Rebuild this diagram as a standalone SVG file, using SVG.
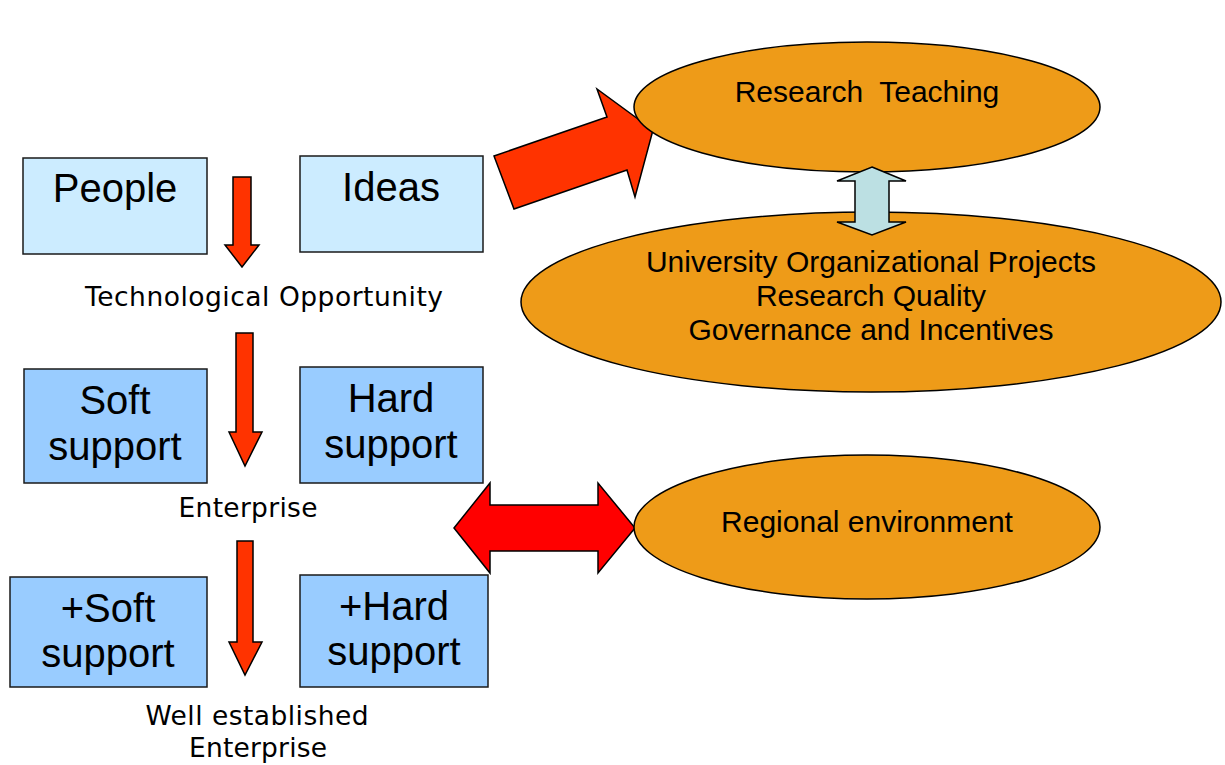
<svg xmlns="http://www.w3.org/2000/svg" width="1225" height="765" viewBox="0 0 1225 765">
  <style>
    .box { stroke: #1a1a1a; stroke-width: 1.5; }
    .light { fill: #CCECFF; }
    .mid { fill: #99CCFF; }
    .oval { fill: #EE9B18; stroke: #000; stroke-width: 1.5; }
    .down { fill: #FF3300; stroke: #000; stroke-width: 1.5; stroke-linejoin: miter; }
    .big { font-family: "Liberation Sans", Arial, sans-serif; font-size: 40px; fill: #000; text-anchor: middle; }
    .oval-text { font-family: "Liberation Sans", Arial, sans-serif; font-size: 30px; fill: #000; text-anchor: middle; white-space: pre; }
    .label { font-family: "DejaVu Sans", Verdana, sans-serif; font-size: 26.5px; fill: #000; text-anchor: middle; }
  </style>

  <rect width="1225" height="765" fill="#fff"/>

  <!-- connectors -->
  <g id="connectors">
    <!-- vertical flow arrows -->
    <polygon class="down" points="233,177 251,177 251,245 259,245 242,267 225,245 233,245"/>
    <polygon class="down" points="236,333 253,333 253,432 262,432 245,466 229,432 236,432"/>
    <polygon class="down" points="237,541 253,541 253,642 262,642 245,675 229,642 237,642"/>
    <!-- Ideas to Research Teaching -->
    <polygon class="down" points="494,156 607,117 597,89 653,130 635,197 627,170 514,209"/>
    <!-- enterprise block to regional environment -->
    <polygon fill="#FF0000" stroke="#000" stroke-width="1.5" points="454,528 490,483 490,505 598,505 598,483 635,528 598,573 598,551 490,551 490,573"/>
  </g>

  <!-- ellipses -->
  <g id="research-teaching">
    <ellipse class="oval" cx="867" cy="107" rx="233" ry="65"/>
    <text class="oval-text" x="867" y="102" xml:space="preserve">Research  Teaching</text>
  </g>
  <g id="university">
    <ellipse class="oval" cx="871" cy="302" rx="350" ry="90"/>
    <text class="oval-text" x="871" y="272">University Organizational Projects</text>
    <text class="oval-text" x="871" y="306">Research Quality</text>
    <text class="oval-text" x="871" y="340">Governance and Incentives</text>
  </g>
  <g id="link-vertical">
    <polygon fill="#BCE0E3" stroke="#000" stroke-width="1.5" points="872,167 906,181 889,181 889,222 906,222 872,235 837,222 855,222 855,181 837,181"/>
  </g>
  <g id="regional">
    <ellipse class="oval" cx="867" cy="527" rx="233" ry="72"/>
    <text class="oval-text" x="867" y="532">Regional environment</text>
  </g>

  <!-- boxes -->
  <g id="people">
    <rect class="box light" x="23" y="158" width="184" height="96"/>
    <text class="big" x="115" y="202">People</text>
  </g>
  <g id="ideas">
    <rect class="box light" x="300" y="156" width="183" height="96"/>
    <text class="big" x="391" y="201">Ideas</text>
  </g>
  <g id="soft-support">
    <rect class="box mid" x="24" y="369" width="183" height="114"/>
    <text class="big" x="115" y="414">Soft</text>
    <text class="big" x="115" y="460">support</text>
  </g>
  <g id="hard-support">
    <rect class="box mid" x="300" y="367" width="183" height="116"/>
    <text class="big" x="391" y="412">Hard</text>
    <text class="big" x="391" y="458">support</text>
  </g>
  <g id="plus-soft-support">
    <rect class="box mid" x="10" y="577" width="197" height="110"/>
    <text class="big" x="108" y="622">+Soft</text>
    <text class="big" x="108" y="667">support</text>
  </g>
  <g id="plus-hard-support">
    <rect class="box mid" x="300" y="575" width="188" height="112"/>
    <text class="big" x="394" y="620">+Hard</text>
    <text class="big" x="394" y="665">support</text>
  </g>

  <!-- stage labels -->
  <g id="labels">
    <text class="label" x="264" y="306" textLength="358" lengthAdjust="spacing">Technological Opportunity</text>
    <text class="label" x="248" y="517" textLength="139" lengthAdjust="spacing">Enterprise</text>
    <text class="label" x="257" y="725" textLength="223" lengthAdjust="spacing">Well established</text>
    <text class="label" x="258" y="757" textLength="138" lengthAdjust="spacing">Enterprise</text>
  </g>
</svg>
